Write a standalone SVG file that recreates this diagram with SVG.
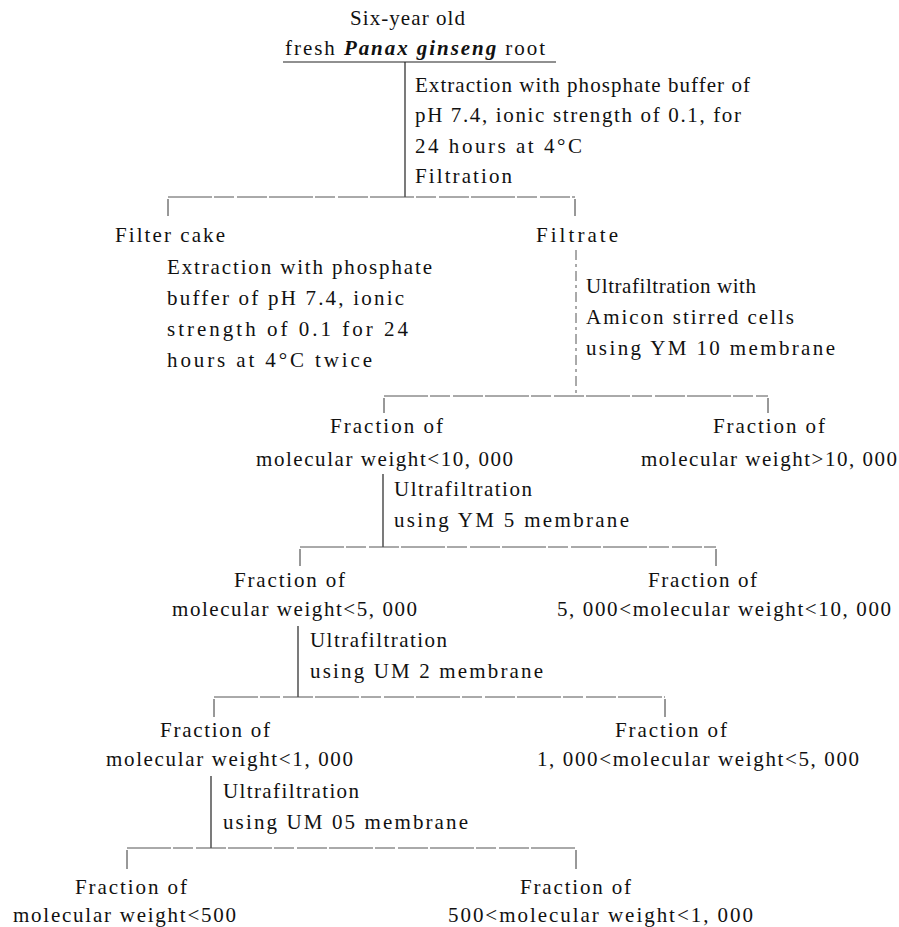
<svg xmlns="http://www.w3.org/2000/svg" width="899" height="927" viewBox="0 0 899 927">
<style>
text{font-family:"Liberation Serif","Times New Roman","DejaVu Serif",serif;font-size:21px;fill:#111}
.c{font-size:21px}
.v{stroke:#222;stroke-width:1.2;fill:none}
.h{stroke:#555;stroke-width:1;fill:none;stroke-dasharray:44 2 20 3 30 2}
.d{stroke:#555;stroke-width:1;fill:none;stroke-dasharray:10 4 3 4}
.tk{stroke:#333;stroke-width:1;fill:none}
</style>
<rect width="899" height="927" fill="#fff"/>
<g id="connectors">
<line class="v" x1="283" y1="62" x2="556" y2="62"/>
<line class="v" x1="405" y1="62" x2="405" y2="197"/>
<line class="h" x1="168" y1="197" x2="575" y2="197"/>
<line class="tk" x1="168" y1="199" x2="168" y2="216"/>
<line class="tk" x1="575" y1="199" x2="575" y2="216"/>
<line class="d" x1="576" y1="250" x2="576" y2="396"/>
<line class="h" x1="384" y1="396" x2="768" y2="396"/>
<line class="tk" x1="384" y1="398" x2="384" y2="413"/>
<line class="tk" x1="768" y1="398" x2="768" y2="413"/>
<line class="v" x1="383" y1="474" x2="383" y2="547"/>
<line class="h" x1="300" y1="547" x2="716" y2="547"/>
<line class="tk" x1="300" y1="549" x2="300" y2="566"/>
<line class="tk" x1="716" y1="549" x2="716" y2="566"/>
<line class="v" x1="298" y1="626" x2="298" y2="697"/>
<line class="h" x1="214" y1="697" x2="665" y2="697"/>
<line class="tk" x1="214" y1="699" x2="214" y2="717"/>
<line class="tk" x1="665" y1="699" x2="665" y2="717"/>
<line class="v" x1="211" y1="776" x2="211" y2="848"/>
<line class="h" x1="127" y1="848" x2="576" y2="848"/>
<line class="tk" x1="127" y1="850" x2="127" y2="869"/>
<line class="tk" x1="576" y1="850" x2="576" y2="869"/>
</g>
<g id="root">
<text x="350" y="25" textLength="115">Six-year old</text>
<text x="285" y="55" textLength="260">fresh <tspan font-style="italic" font-weight="bold">Panax ginseng</tspan> root</text>
</g>
<g id="step1">
<text x="415" y="92" textLength="335">Extraction with phosphate buffer of</text>
<text x="415" y="122" textLength="326">pH 7.4, ionic strength of 0.1, for</text>
<text x="415" y="153" textLength="167">24 hours at 4°C</text>
<text x="415" y="183" textLength="97">Filtration</text>
</g>
<g id="filter-cake">
<text x="115" y="242" textLength="110">Filter cake</text>
</g>
<g id="filtrate">
<text x="536" y="242" textLength="82">Filtrate</text>
</g>
<g id="step-cake">
<text x="167" y="274" textLength="265">Extraction with phosphate</text>
<text x="167" y="305" textLength="237">buffer of pH 7.4, ionic</text>
<text x="167" y="336" textLength="241">strength of 0.1 for 24</text>
<text x="167" y="367" textLength="205">hours at 4°C twice</text>
</g>
<g id="step2">
<text x="586" y="293" textLength="170">Ultrafiltration with</text>
<text x="586" y="324" textLength="208">Amicon stirred cells</text>
<text x="586" y="355" textLength="249">using YM 10 membrane</text>
</g>
<g id="frac-lt10000">
<text x="330" y="433" textLength="113" class="c">Fraction of</text>
<text x="256" y="466" textLength="257" class="c">molecular weight&lt;10, 000</text>
</g>
<g id="frac-gt10000">
<text x="713" y="433" textLength="112" class="c">Fraction of</text>
<text x="641" y="466" textLength="256" class="c">molecular weight&gt;10, 000</text>
</g>
<g id="step3">
<text x="394" y="496" textLength="138" class="c">Ultrafiltration</text>
<text x="394" y="527" textLength="235" class="c">using YM 5 membrane</text>
</g>
<g id="frac-lt5000">
<text x="234" y="587" textLength="111" class="c">Fraction of</text>
<text x="172" y="616" textLength="245" class="c">molecular weight&lt;5, 000</text>
</g>
<g id="frac-5000-10000">
<text x="648" y="587" textLength="109" class="c">Fraction of</text>
<text x="557" y="616" textLength="334" class="c">5, 000&lt;molecular weight&lt;10, 000</text>
</g>
<g id="step4">
<text x="310" y="647" textLength="137" class="c">Ultrafiltration</text>
<text x="310" y="678" textLength="233" class="c">using UM 2 membrane</text>
</g>
<g id="frac-lt1000">
<text x="160" y="737" textLength="110" class="c">Fraction of</text>
<text x="106" y="766" textLength="247" class="c">molecular weight&lt;1, 000</text>
</g>
<g id="frac-1000-5000">
<text x="615" y="737" textLength="112" class="c">Fraction of</text>
<text x="537" y="766" textLength="322" class="c">1, 000&lt;molecular weight&lt;5, 000</text>
</g>
<g id="step5">
<text x="223" y="798" textLength="136" class="c">Ultrafiltration</text>
<text x="223" y="829" textLength="245" class="c">using UM 05 membrane</text>
</g>
<g id="frac-lt500">
<text x="75" y="894" textLength="112" class="c">Fraction of</text>
<text x="13" y="922" textLength="223" class="c">molecular weight&lt;500</text>
</g>
<g id="frac-500-1000">
<text x="520" y="894" textLength="111" class="c">Fraction of</text>
<text x="448" y="922" textLength="305" class="c">500&lt;molecular weight&lt;1, 000</text>
</g>
</svg>
